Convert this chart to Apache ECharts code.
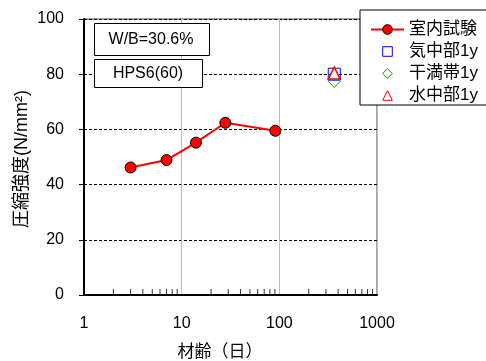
<!DOCTYPE html>
<html><head><meta charset="utf-8">
<script src="https://cdn.jsdelivr.net/npm/echarts@6/dist/echarts.min.js"></script>
<style>html,body{margin:0;padding:0;background:#fff}#c{width:486px;height:361px}</style>
</head><body><div id="c"></div>
<script>
const labAges = [3, 7, 14, 28, 91];
const labStrength = [46.2, 48.9, 55.2, 62.4, 59.5];
const exposureAge = [365];
const airStrength = [80.0];
const tidalStrength = [77.4];
const waterStrength = [80.4];
const seriesNames = ['室内試験', '気中部1y', '干満帯1y', '水中部1y'];
const yTicks = [0, 20, 40, 60, 80, 100];
const xTicks = [1, 10, 100, 1000];
const minorTicks = [2,3,4,5,6,7,8,9,20,30,40,50,60,70,80,90,200,300,400,500,600,700,800,900];
const notes = ['W/B=30.6%', 'HPS6(60)'];
const yTitle = '圧縮強度(N/mm²)';
const xTitle = '材齢（日）';

const FONT = "'Liberation Sans', 'Noto Sans CJK JP', sans-serif";
const pairs = (xs, ys) => ys.map((y, i) => [xs[i], y]);

const chart = echarts.init(document.getElementById('c'), null, {renderer: 'canvas'});
chart.setOption({
  animation: false,
  backgroundColor: '#fff',
  textStyle: {fontFamily: FONT},
  grid: {left: 84, top: 19, right: 109, bottom: 66, show: true, borderColor: '#444', borderWidth: 1, backgroundColor: 'transparent'},
  xAxis: {
    type: 'log', logBase: 10, min: xTicks[0], max: xTicks[xTicks.length - 1],
    axisLine: {lineStyle: {color: '#000', width: 2}},
    axisTick: {show: false},
    axisLabel: {fontSize: 16, color: '#000', margin: 21, fontFamily: FONT, showMinLabel: true, showMaxLabel: true,
      formatter: v => String(Math.round(v))},
    splitLine: {show: true, lineStyle: {color: '#bdbdbd', width: 1, type: 'solid'}},
    minorTick: {show: false}
  },
  yAxis: {
    type: 'value', min: yTicks[0], max: yTicks[yTicks.length - 1], interval: 20,
    axisLine: {show: true, lineStyle: {color: '#000', width: 2}},
    axisTick: {show: true, inside: false, length: 5, lineStyle: {color: '#000', width: 1}},
    axisLabel: {fontSize: 16, color: '#000', margin: 20, fontFamily: FONT},
    splitLine: {show: true, lineStyle: {color: '#000', width: 1, type: [3, 2]}}
  },
  legend: {
    data: seriesNames, orient: 'vertical', left: 360, top: 10,
    itemWidth: 33, itemHeight: 12, itemGap: 5,
    padding: [11, 40, 1, 10],
    itemStyle: {borderWidth: 1},
    borderColor: '#000', borderWidth: 1, borderRadius: 0, backgroundColor: '#fff',
    textStyle: {fontSize: 17, color: '#000', lineHeight: 17, fontFamily: FONT}
  },
  graphic: [
    {type: 'rect', z: 50, shape: {x: 94.5, y: 23.5, width: 115, height: 32}, style: {fill: '#fff', stroke: '#000', lineWidth: 1}},
    {type: 'text', z: 51, x: 151, y: 39.5, style: {text: notes[0], fill: '#000', font: '16px ' + FONT, align: 'center', verticalAlign: 'middle'}},
    {type: 'rect', z: 50, shape: {x: 94.5, y: 59.5, width: 108, height: 28}, style: {fill: '#fff', stroke: '#000', lineWidth: 1}},
    {type: 'text', z: 51, x: 148, y: 73.5, style: {text: notes[1], fill: '#000', font: '16px ' + FONT, align: 'center', verticalAlign: 'middle'}},
    {type: 'text', z: 51, x: 220, y: 352, style: {text: xTitle, fill: '#000', font: '17px ' + FONT, align: 'center', verticalAlign: 'middle'}},
    {type: 'text', z: 51, x: 22, y: 159, rotation: Math.PI / 2, style: {text: yTitle, fill: '#000', font: '18px ' + FONT, align: 'center', verticalAlign: 'middle'}}
  ],
  series: [
    {
      name: 'minorTicks', type: 'scatter', silent: true, clip: false, z: 1,
      data: minorTicks.map(v => [v, 0]),
      symbol: 'rect', symbolSize: [1, 5], symbolOffset: [0, -3.5],
      itemStyle: {color: '#000'}
    },
    {
      name: seriesNames[0], type: 'line', data: pairs(labAges, labStrength),
      symbol: 'circle', symbolSize: 11,
      lineStyle: {color: '#ff0000', width: 2},
      itemStyle: {color: '#ff0000', borderColor: '#000', borderWidth: 1}, z: 5
    },
    {
      name: seriesNames[1], type: 'line', data: pairs(exposureAge, airStrength),
      symbol: 'rect', symbolSize: 12, showSymbol: true,
      lineStyle: {color: '#0000ff', opacity: 0},
      itemStyle: {color: 'rgba(255,255,255,0)', borderColor: '#0000ff', borderWidth: 1}, z: 5
    },
    {
      name: seriesNames[2], type: 'line', data: pairs(exposureAge, tidalStrength),
      symbol: 'diamond', symbolSize: 12, showSymbol: true,
      lineStyle: {color: '#009900', opacity: 0},
      itemStyle: {color: 'rgba(255,255,255,0)', borderColor: '#009900', borderWidth: 1}, z: 6
    },
    {
      name: seriesNames[3], type: 'line', data: pairs(exposureAge, waterStrength),
      symbol: 'triangle', symbolSize: 12, showSymbol: true,
      lineStyle: {color: '#ff0000', opacity: 0},
      itemStyle: {color: '#fff', borderColor: '#ff0000', borderWidth: 1.5}, z: 7
    }
  ]
});
</script></body></html>
